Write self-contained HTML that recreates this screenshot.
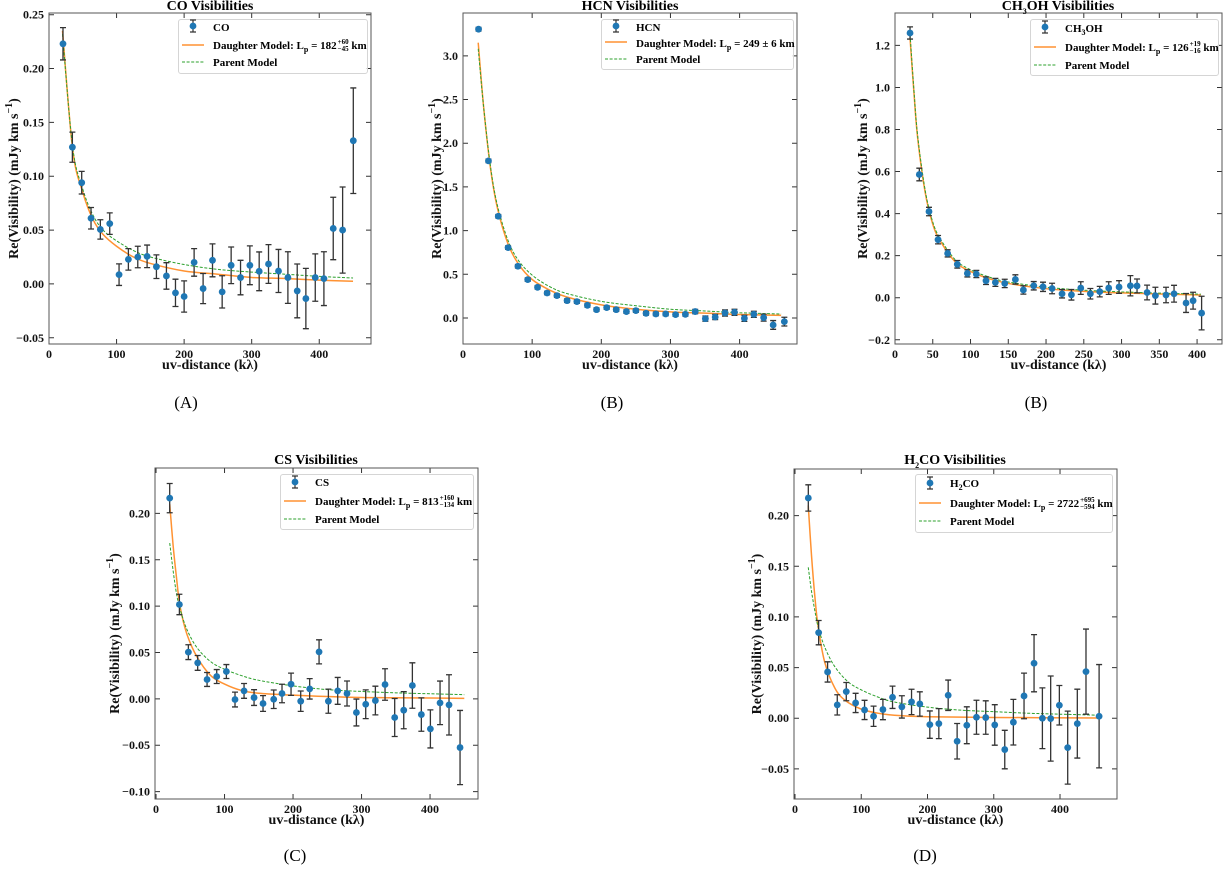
<!DOCTYPE html>
<html><head><meta charset="utf-8">
<style>
html,body{margin:0;padding:0;background:#fff;}
#wrap{position:relative;width:1225px;height:872px;overflow:hidden;font-family:"Liberation Serif",serif;}
svg{position:absolute;left:0;top:0;}
.title{position:absolute;font-weight:bold;font-size:14px;transform:translateX(-50%);white-space:nowrap;line-height:14px;}
.cap{position:absolute;font-size:17px;transform:translateX(-50%);}
.legend{position:absolute;border:1px solid #d5d5d5;border-radius:3px;background:rgba(255,255,255,0.85);font-weight:bold;font-size:11px;}
.row{position:absolute;left:0;height:16px;white-space:nowrap;}
.row .txt{position:absolute;left:34px;top:0;line-height:16px;}
.st{display:inline-flex;flex-direction:column;font-size:7px;line-height:7px;vertical-align:middle;margin-left:1px;}
sub{font-size:8px;}
</style></head><body>
<div id="wrap">
<svg id="svg" width="1225" height="872" xmlns="http://www.w3.org/2000/svg"></svg>

<div class="title" style="left:210px;top:0px">CO Visibilities</div>
<div class="title" style="left:630px;top:0px">HCN Visibilities</div>
<div class="title" style="left:1058px;top:0px">CH<sub>3</sub>OH Visibilities</div>
<div class="title" style="left:316px;top:454px">CS Visibilities</div>
<div class="title" style="left:955px;top:454px">H<sub>2</sub>CO Visibilities</div>

<div class="cap" style="left:186px;top:393px">(A)</div>
<div class="cap" style="left:612px;top:393px">(B)</div>
<div class="cap" style="left:1036px;top:393px">(B)</div>
<div class="cap" style="left:295px;top:846px">(C)</div>
<div class="cap" style="left:925px;top:846px">(D)</div>

<div class="legend" style="left:178px;top:19px;width:188px;height:53px">
 <div class="row" style="top:0px"><div class="txt">CO</div></div>
 <div class="row" style="top:18px"><div class="txt">Daughter Model: L<sub>p</sub> = 182<span class="st"><span>+60</span><span>−45</span></span> km</div></div>
 <div class="row" style="top:35px"><div class="txt">Parent Model</div></div>
</div>
<div class="legend" style="left:601px;top:19px;width:191px;height:49px">
 <div class="row" style="top:0px"><div class="txt">HCN</div></div>
 <div class="row" style="top:16px"><div class="txt">Daughter Model: L<sub>p</sub> = 249 ± 6 km</div></div>
 <div class="row" style="top:32px"><div class="txt">Parent Model</div></div>
</div>
<div class="legend" style="left:1030px;top:19px;width:187px;height:55px">
 <div class="row" style="top:1px"><div class="txt">CH<sub>3</sub>OH</div></div>
 <div class="row" style="top:20px"><div class="txt">Daughter Model: L<sub>p</sub> = 126<span class="st"><span>+19</span><span>−16</span></span> km</div></div>
 <div class="row" style="top:38px"><div class="txt">Parent Model</div></div>
</div>
<div class="legend" style="left:280px;top:474px;width:192px;height:54px">
 <div class="row" style="top:0px"><div class="txt">CS</div></div>
 <div class="row" style="top:19px"><div class="txt">Daughter Model: L<sub>p</sub> = 813<span class="st"><span>+160</span><span>−134</span></span> km</div></div>
 <div class="row" style="top:37px"><div class="txt">Parent Model</div></div>
</div>
<div class="legend" style="left:915px;top:474px;width:196px;height:57px">
 <div class="row" style="top:1px"><div class="txt">H<sub>2</sub>CO</div></div>
 <div class="row" style="top:21px"><div class="txt">Daughter Model: L<sub>p</sub> = 2722<span class="st"><span>+695</span><span>−594</span></span> km</div></div>
 <div class="row" style="top:39px"><div class="txt">Parent Model</div></div>
</div>
</div>
<script>
// ---------- CO ----------
const coX=[20.7,34.6,48.4,62.2,76,89.9,103.7,117.5,131.4,145.2,159,173.8,187.2,200,214.8,228.1,242,256.3,269.6,283.5,297.3,311.1,324.9,339.7,353.6,367.4,380.2,394.1,406.9,420.7,434.6,450.4];
const coY=[0.223,0.127,0.094,0.061,0.0506,0.056,0.0086,0.0228,0.025,0.0256,0.016,0.0074,-0.0083,-0.0117,0.020,-0.0043,0.0219,-0.0074,0.0173,0.0059,0.0173,0.0117,0.0185,0.012,0.0059,-0.0065,-0.0136,0.0059,0.0049,0.0515,0.050,0.133];
const coErr=[0.015,0.014,0.0105,0.010,0.009,0.010,0.010,0.010,0.010,0.0105,0.011,0.0123,0.0127,0.0145,0.0128,0.014,0.0153,0.015,0.017,0.016,0.018,0.018,0.018,0.020,0.024,0.025,0.028,0.022,0.025,0.029,0.040,0.049];
const coModelX=[20,35,50,65,80,100,125,150,200,250,300,350,400,450];
const coDaughter=[0.235,0.125,0.085,0.060,0.046,0.035,0.025,0.019,0.012,0.009,0.006,0.005,0.0035,0.0025];
const coParent=[0.232,0.127,0.088,0.064,0.050,0.040,0.031,0.025,0.018,0.0135,0.011,0.009,0.007,0.0055];
const coXTicks=[0,100,200,300,400];
const coYTicks=[-0.05,0,0.05,0.10,0.15,0.20,0.25];
// ---------- HCN ----------
const hcnX=[22.5,36.8,51,65.2,79.4,93.6,107.8,121.6,135.8,150.5,164.7,179.9,193.1,207.8,221.6,236.3,250,264.7,278.9,293.1,307.4,321.6,335.8,350.5,364.7,378.9,392.6,406.9,420.6,434.8,448.5,464.7];
const hcnY=[3.305,1.798,1.164,0.805,0.592,0.439,0.351,0.286,0.256,0.198,0.187,0.145,0.095,0.118,0.095,0.073,0.084,0.053,0.046,0.046,0.038,0.042,0.073,-0.008,0.011,0.057,0.065,-0.004,0.042,0.004,-0.08,-0.042];
const hcnErr=[0.02,0.02,0.02,0.02,0.02,0.02,0.02,0.02,0.02,0.02,0.02,0.02,0.02,0.02,0.02,0.02,0.02,0.02,0.02,0.02,0.02,0.02,0.025,0.03,0.03,0.035,0.035,0.035,0.035,0.04,0.05,0.05];
const hcnModelX=[22,30,40,50,65,80,100,125,150,200,250,300,350,400,460];
const hcnDaughter=[3.15,2.4,1.7,1.25,0.85,0.62,0.44,0.32,0.24,0.15,0.10,0.07,0.055,0.04,0.03];
const hcnParent=[3.08,2.4,1.72,1.28,0.89,0.66,0.49,0.36,0.28,0.19,0.14,0.10,0.08,0.06,0.045];
const hcnXTicks=[0,100,200,300,400];
const hcnYTicks=[0,0.5,1.0,1.5,2.0,2.5,3.0];
// ---------- CH3OH ----------
const chX=[19.9,32.2,45,57,69.7,82.5,95.8,107.7,120.5,132.9,145.3,159.4,170,183.7,196,208,221.2,233.6,246,258.7,271.1,283,296.7,311.7,320.5,333.8,344.8,358.9,369.5,385.4,394.7,406];
const chY=[1.259,0.586,0.41,0.276,0.211,0.159,0.116,0.113,0.081,0.073,0.068,0.087,0.037,0.057,0.052,0.044,0.019,0.014,0.046,0.019,0.029,0.046,0.051,0.057,0.056,0.025,0.01,0.013,0.019,-0.025,-0.014,-0.073];
const chErr=[0.029,0.03,0.02,0.02,0.017,0.018,0.017,0.017,0.018,0.019,0.02,0.022,0.02,0.02,0.022,0.025,0.02,0.025,0.03,0.025,0.025,0.03,0.03,0.048,0.033,0.035,0.04,0.037,0.04,0.045,0.04,0.08];
const chModelX=[20,25,30,40,50,60,80,100,125,150,200,250,300,350,405];
const chDaughter=[1.23,0.98,0.76,0.50,0.35,0.27,0.17,0.125,0.09,0.068,0.043,0.03,0.023,0.018,0.013];
const chParent=[1.25,0.99,0.77,0.51,0.36,0.28,0.18,0.133,0.098,0.075,0.05,0.036,0.028,0.022,0.017];
const chXTicks=[0,50,100,150,200,250,300,350,400];
const chYTicks=[-0.2,0,0.2,0.4,0.6,0.8,1.0,1.2];
// ---------- CS ----------
const csX=[19.95,34.1,47.2,60.8,74.5,88.6,102.7,115.3,128.5,143.1,156.2,171.8,183.9,197.1,211.2,224.3,238,251.6,265.2,278.8,292.5,306.1,320.2,334.3,348.4,361.6,374.2,387.3,400.5,414.6,427.7,443.8];
const csY=[0.2165,0.1018,0.0504,0.0388,0.0209,0.0241,0.0295,-0.0007,0.0086,0.0014,-0.005,-0.0004,0.0058,0.0158,-0.0025,0.0108,0.0507,-0.0025,0.0086,0.0058,-0.0147,-0.0058,-0.0018,0.0155,-0.0201,-0.0122,0.0144,-0.0169,-0.0324,-0.0043,-0.0065,-0.0525];
const csErr=[0.0158,0.011,0.008,0.008,0.0075,0.0075,0.0075,0.008,0.008,0.0085,0.0085,0.01,0.01,0.012,0.011,0.011,0.013,0.013,0.0145,0.0135,0.0145,0.0155,0.0155,0.017,0.0205,0.02,0.0245,0.018,0.0205,0.0235,0.0325,0.04];
const csModelX=[20,25,30,35,45,60,80,100,125,150,200,250,300,350,400,450];
const csDaughter=[0.21,0.165,0.13,0.10,0.07,0.045,0.025,0.016,0.009,0.006,0.004,0.0025,0.0015,0.0012,0.001,0.0005];
const csParent=[0.168,0.138,0.113,0.097,0.075,0.055,0.04,0.032,0.025,0.02,0.014,0.01,0.008,0.0065,0.0055,0.0045];
const csXTicks=[0,100,200,300,400];
const csYTicks=[-0.10,-0.05,0,0.05,0.10,0.15,0.20];
// ---------- H2CO ----------
const hX=[20.1,35.7,49.2,63.8,77.4,91.5,105,118.6,132.7,147.2,161.3,175.9,188.4,203.5,217.1,231.2,244.7,259.3,273.9,287.9,301.5,316.6,329.6,345.7,360.8,373.4,385.9,399,411.6,426.1,439.2,459];
const hY=[0.2174,0.0845,0.0457,0.0132,0.0263,0.0151,0.0082,0.002,0.0086,0.0207,0.0112,0.0161,0.0141,-0.0063,-0.0053,0.0227,-0.0227,-0.0069,0.001,0.0007,-0.0066,-0.0309,-0.0039,0.022,0.0543,0,-0.0003,0.0128,-0.029,-0.0053,0.046,0.002];
const hErr=[0.013,0.012,0.01,0.01,0.009,0.0095,0.0095,0.01,0.01,0.011,0.011,0.0125,0.012,0.0135,0.0148,0.015,0.0175,0.0182,0.0168,0.0165,0.02,0.019,0.0225,0.0225,0.0282,0.03,0.042,0.0195,0.036,0.034,0.042,0.051];
const hModelX=[20,25,30,35,45,60,75,100,125,150,200,300,460];
const hDaughter=[0.21,0.16,0.12,0.09,0.055,0.03,0.018,0.009,0.005,0.003,0.0015,0.0008,0.0003];
const hParentX=[20,25,30,35,45,60,80,100,125,150,200,250,300,350,400,460];
const hParent=[0.149,0.125,0.106,0.09,0.07,0.051,0.036,0.028,0.021,0.016,0.011,0.008,0.0065,0.005,0.004,0.003];
const hXTicks=[0,100,200,300,400];
const hYTicks=[-0.05,0,0.05,0.10,0.15,0.20];

const NS='http://www.w3.org/2000/svg';
const svg=document.getElementById('svg');
function mk(tag,attrs,parent){const e=document.createElementNS(NS,tag);for(const k in attrs)e.setAttribute(k,attrs[k]);(parent||svg).appendChild(e);return e;}

const panels=[
 {id:'co',L:49,R:371,T:13,B:344,x0:0,x1:476.6,y0:-0.0558,y1:0.2516,dec:2,X:coX,Y:coY,E:coErr,dX:coModelX,dY:coDaughter,pX:coModelX,pY:coParent,xt:coXTicks,yt:coYTicks,yl:13,leg:[178,19,26,45,62]},
 {id:'hcn',L:463,R:797,T:13,B:344,x0:0,x1:483,y0:-0.298,y1:3.49,dec:1,X:hcnX,Y:hcnY,E:hcnErr,dX:hcnModelX,dY:hcnDaughter,pX:hcnModelX,pY:hcnParent,xt:hcnXTicks,yt:hcnYTicks,yl:436,leg:[601,19,26,42,59]},
 {id:'ch3oh',L:895,R:1222,T:13,B:344,x0:0,x1:433,y0:-0.22,y1:1.354,dec:1,X:chX,Y:chY,E:chErr,dX:chModelX,dY:chDaughter,pX:chModelX,pY:chParent,xt:chXTicks,yt:chYTicks,yl:862,leg:[1030,19,27,47,65]},
 {id:'cs',L:155,R:478,T:468,B:799,x0:-1.5,x1:470,y0:-0.108,y1:0.249,dec:2,X:csX,Y:csY,E:csErr,dX:csModelX,dY:csDaughter,pX:csModelX,pY:csParent,xt:csXTicks,yt:csYTicks,yl:114,leg:[280,474,482,501,519]},
 {id:'h2co',L:794,R:1117,T:469,B:799,x0:-1.5,x1:486,y0:-0.0797,y1:0.246,dec:2,X:hX,Y:hY,E:hErr,dX:hModelX,dY:hDaughter,pX:hParentX,pY:hParent,xt:hXTicks,yt:hYTicks,yl:756,leg:[915,474,483,503,521]}
];

function smoothPath(pts){
 let d='M'+pts[0][0].toFixed(2)+','+pts[0][1].toFixed(2);
 for(let i=0;i<pts.length-1;i++){
  const p0=pts[Math.max(0,i-1)],p1=pts[i],p2=pts[i+1],p3=pts[Math.min(pts.length-1,i+2)];
  const c1=[p1[0]+(p2[0]-p0[0])/6,p1[1]+(p2[1]-p0[1])/6];
  const c2=[p2[0]-(p3[0]-p1[0])/6,p2[1]-(p3[1]-p1[1])/6];
  d+=' C'+c1[0].toFixed(2)+','+c1[1].toFixed(2)+' '+c2[0].toFixed(2)+','+c2[1].toFixed(2)+' '+p2[0].toFixed(2)+','+p2[1].toFixed(2);
 }
 return d;
}
function fmt(v,dec){const s=Math.abs(v).toFixed(dec);return (v<-1e-9?'−':'')+s;}

panels.forEach(p=>{
 const sx=v=>p.L+(v-p.x0)/(p.x1-p.x0)*(p.R-p.L);
 const sy=v=>p.B-(v-p.y0)/(p.y1-p.y0)*(p.B-p.T);
 const g=mk('g',{});
 
 
 const cid='clip-'+p.id;
 const cp=mk('clipPath',{id:cid},g);mk('rect',{x:p.L,y:p.T,width:p.R-p.L,height:p.B-p.T},cp);
 p.xt.forEach(t=>{
  const x=sx(t);
  const tk=mk('path',{d:`M${x},${p.B}v-5M${x},${p.T}v5`,stroke:'#333','stroke-width':1},g);
  
  
  const tl=mk('text',{x:x,y:p.B+14,'text-anchor':'middle','font-family':'Liberation Serif, serif','font-weight':'bold','font-size':12,fill:'#111'},g);
  tl.textContent=String(t);
  
  
 });
 p.yt.forEach(t=>{
  const y=sy(t);
  const tk=mk('path',{d:`M${p.L},${y}h5M${p.R},${y}h-5`,stroke:'#333','stroke-width':1},g);
  
  
  const tl=mk('text',{x:p.L-5,y:y+4,'text-anchor':'end','font-family':'Liberation Serif, serif','font-weight':'bold','font-size':12,fill:'#111'},g);
  tl.textContent=fmt(t,p.dec);
  
  
 });
 const xl=mk('text',{x:(p.L+p.R)/2,y:p.B+25,'text-anchor':'middle','font-family':'Liberation Serif, serif','font-weight':'bold','font-size':14,fill:'#111'},g);
 xl.textContent='uv-distance (kλ)';
 
 
 const cy=(p.T+p.B)/2;
 const yl=mk('text',{x:0,y:0,transform:`translate(${p.yl+5},${cy}) rotate(-90)`,'text-anchor':'middle','font-family':'Liberation Serif, serif','font-weight':'bold','font-size':14,fill:'#111'},g);
 yl.innerHTML='Re(Visibility) (mJy km s<tspan dy="-6" font-size="10">−1</tspan><tspan dy="6">)</tspan>';
 
 
 const pg=mk('g',{'clip-path':`url(#${cid})`},g);
 const dp=mk('path',{d:smoothPath(p.dX.map((v,i)=>[sx(v),sy(p.dY[i])])),fill:'none',stroke:'#ff7f0e','stroke-width':1.5,'stroke-opacity':0.85},pg);
 
 
 const pp=mk('path',{d:smoothPath(p.pX.map((v,i)=>[sx(v),sy(p.pY[i])])),fill:'none',stroke:'#2ca02c','stroke-width':1,'stroke-dasharray':'3,1.6'},pg);
 
 
 p.X.forEach((v,i)=>{
  const x=sx(v),y=sy(p.Y[i]),yt=sy(p.Y[i]+p.E[i]),yb=sy(p.Y[i]-p.E[i]);
  const eb=mk('path',{d:`M${x},${yt}V${yb}M${x-3},${yt}h6M${x-3},${yb}h6`,stroke:'#333','stroke-width':1.3,fill:'none'},pg);
  
  
  const c=mk('circle',{cx:x,cy:y,r:3.4,fill:'#1f77b4'},pg);
  
  
 });
 const sp=mk('rect',{x:p.L,y:p.T,width:p.R-p.L,height:p.B-p.T,fill:'none',stroke:'#555','stroke-width':1},g);
 
 
});

const legendSvg=document.createElementNS(NS,'svg');
legendSvg.setAttribute('width',1225);legendSvg.setAttribute('height',872);
legendSvg.setAttribute('style','position:absolute;left:0;top:0;pointer-events:none');


document.getElementById('wrap').appendChild(legendSvg);
panels.forEach(p=>{
 const lx=p.leg[0],r1=p.leg[2],r2=p.leg[3],r3=p.leg[4];
 const m=lx+15;
 const a=mk('path',{d:`M${m},${r1-6}V${r1+6}M${m-3},${r1-6}h6M${m-3},${r1+6}h6`,stroke:'#333','stroke-width':1.2},legendSvg);
 
 
 const c=mk('circle',{cx:m,cy:r1,r:3.4,fill:'#1f77b4'},legendSvg);
 
 
 const l1=mk('line',{x1:lx+4,x2:lx+26,y1:r2,y2:r2,stroke:'#ff7f0e','stroke-width':1.5,'stroke-opacity':0.85},legendSvg);
 
 
 const l2=mk('line',{x1:lx+4,x2:lx+26,y1:r3,y2:r3,stroke:'#2ca02c','stroke-width':1,'stroke-dasharray':'3,1.6'},legendSvg);
 
 
});
</script>
</body></html>
